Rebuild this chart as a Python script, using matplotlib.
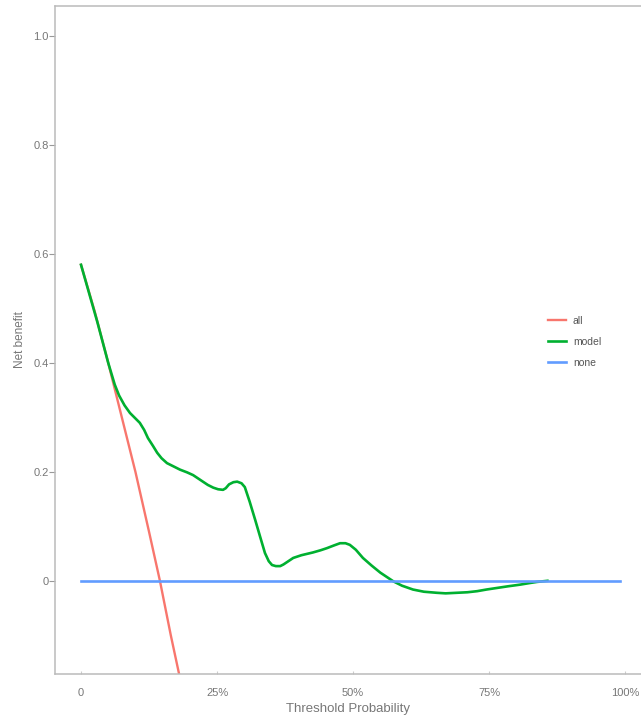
import matplotlib.pyplot as plt
import numpy as np

plt.rcParams['font.family'] = ['Liberation Sans', 'DejaVu Sans']

# threshold probabilities and net benefit
pt_all = [0.0, 0.025, 0.05, 0.075, 0.10, 0.125, 0.145, 0.165, 0.18]
nb_all = [0.58, 0.495, 0.40, 0.30, 0.20, 0.09, 0.0, -0.10, -0.17]

pt_model = [0.0, 0.03, 0.05, 0.062, 0.07, 0.08, 0.09, 0.1, 0.108, 0.116,
            0.123, 0.132, 0.14, 0.148, 0.158, 0.17, 0.182, 0.195, 0.206,
            0.215, 0.224, 0.233, 0.243, 0.252, 0.261, 0.266, 0.272, 0.28,
            0.287, 0.295, 0.301, 0.31, 0.32, 0.33, 0.338, 0.345, 0.351,
            0.358, 0.366, 0.372, 0.378, 0.384, 0.39, 0.405, 0.426, 0.44,
            0.452, 0.465, 0.476, 0.486, 0.494, 0.505, 0.518, 0.534, 0.55,
            0.562, 0.574, 0.59, 0.61, 0.63, 0.654, 0.67, 0.69, 0.71, 0.728,
            0.745, 0.765, 0.785, 0.807, 0.825, 0.838, 0.857]
nb_model = [0.58, 0.475, 0.40, 0.36, 0.34, 0.322, 0.308, 0.298, 0.29, 0.277,
            0.262, 0.248, 0.235, 0.225, 0.216, 0.21, 0.204, 0.199, 0.194,
            0.188, 0.182, 0.176, 0.171, 0.168, 0.167, 0.17, 0.177, 0.181,
            0.182, 0.179, 0.172, 0.145, 0.112, 0.078, 0.051, 0.036, 0.029,
            0.027, 0.027, 0.03, 0.034, 0.038, 0.042, 0.047, 0.052, 0.056,
            0.060, 0.065, 0.069, 0.069, 0.066, 0.057, 0.042, 0.028, 0.015,
            0.007, -0.001, -0.009, -0.016, -0.02, -0.022, -0.023, -0.022,
            -0.021, -0.019, -0.016, -0.013, -0.01, -0.007, -0.004, -0.002, 0.0]

pt_none = [0.0, 0.99]
nb_none = [0.0, 0.0]

yticks = [0, 0.2, 0.4, 0.6, 0.8, 1.0]
ytick_labels = ['0', '0.2', '0.4', '0.6', '0.8', '1.0']
xticks = [0, 0.25, 0.5, 0.75, 1.0]
xtick_labels = ['0', '25%', '50%', '75%', '100%']

fig = plt.figure(figsize=(6.41, 7.2), dpi=100)
ax = fig.add_axes([0.0858, 0.0639, 0.9142, 0.9278])

ax.plot(pt_all, nb_all, color='#F8766D', lw=1.7, label='all',
        solid_joinstyle='round')
ax.plot(pt_model, nb_model, color='#00B030', lw=1.9, label='model',
        solid_joinstyle='round')
ax.plot(pt_none, nb_none, color='#619CFF', lw=1.9, label='none')

ax.set_xlim(-0.0478, 1.029)
ax.set_ylim(-0.171, 1.055)
ax.set_yticks(yticks)
ax.set_yticklabels(ytick_labels)
ax.set_xticks(xticks)
ax.set_xticklabels(xtick_labels)

for s in ['left', 'bottom', 'top']:
    ax.spines[s].set_color('#BBBBBB')
    ax.spines[s].set_linewidth(1.1)
ax.spines['right'].set_visible(False)

ax.tick_params(axis='y', colors='#999999', labelcolor='#777777', labelsize=8,
               length=4, width=0.8, pad=0.5)
ax.tick_params(axis='x', colors='#cccccc', labelcolor='#777777', labelsize=8,
               direction='in', length=2, width=0.8, pad=10)

ax.set_xlabel('Threshold Probability', color='#777777', fontsize=9.5, labelpad=4)
ax.set_ylabel('Net benefit', color='#777777', fontsize=8.5, labelpad=5)

leg = ax.legend(loc='center left', bbox_to_anchor=(0.825, 0.497), frameon=False,
                fontsize=7.5, handlelength=1.7, handletextpad=0.7, labelspacing=1.05)
for t in leg.get_texts():
    t.set_color('#555555')

plt.savefig('out.png', dpi=100)
